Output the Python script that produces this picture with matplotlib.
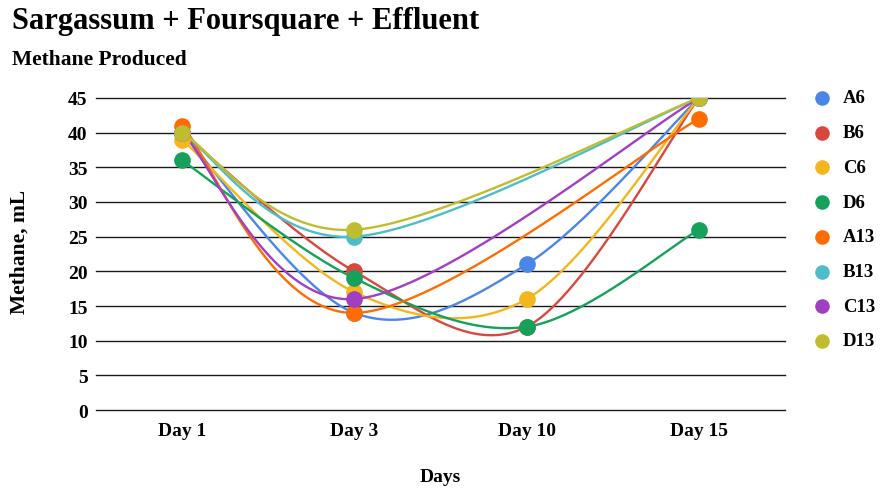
import numpy as np
import matplotlib.pyplot as plt

plt.rcParams['font.family'] = ['Liberation Serif', 'DejaVu Serif']
plt.rcParams['font.weight'] = 'bold'

days = ['Day 1', 'Day 3', 'Day 10', 'Day 15']
series_names = ['A6', 'B6', 'C6', 'D6', 'A13', 'B13', 'C13', 'D13']
colors = ['#4a86e8', '#d9473e', '#f3b61c', '#16a15a',
          '#ff6d01', '#4dbdc9', '#a13fc4', '#bfbd2f']

# methane (mL); nan = no reading, the curve is carried across
a6 = [40, 14, 21, 45]
b6 = [40, 20, 12, 45]
c6 = [39, 17, 16, 45]
d6 = [36, 19, 12, 26]
a13 = [41, 14, np.nan, 42]
b13 = [40, 25, np.nan, 45]
c13 = [40, 16, np.nan, 45]
d13 = [40, 26, np.nan, 45]
values = [a6, b6, c6, d6, a13, b13, c13, d13]
yticks = list(range(0, 50, 5))


def smooth(xs, ys, n=60):
    # cubic bezier through the points, control arms from the neighbours
    pts = np.column_stack([xs, ys])
    out = []
    for i in range(len(pts) - 1):
        p0 = pts[max(i - 1, 0)]
        p1 = pts[i]
        p2 = pts[i + 1]
        p3 = pts[min(i + 2, len(pts) - 1)]
        c1 = p1 + (p2 - p0) / 6
        c2 = p2 - (p3 - p1) / 6
        t = np.linspace(0, 1, n)[:, None]
        seg = ((1 - t) ** 3 * p1 + 3 * (1 - t) ** 2 * t * c1
               + 3 * (1 - t) * t ** 2 * c2 + t ** 3 * p2)
        out.append(seg)
    out = np.vstack(out)
    return out[:, 0], out[:, 1]


fig = plt.figure(figsize=(8.8, 4.89), dpi=100)
ax = fig.add_axes([96 / 880, 1 - 411 / 489, 689 / 880, 312 / 489])

# horizontal gridlines, including the baseline
for v in yticks:
    ax.axhline(v, color='#1a1a1a', lw=1, clip_on=False, zorder=1)

x = np.arange(len(days))
for name, vals, col in zip(series_names, values, colors):
    vals = np.array(vals, dtype=float)
    ok = ~np.isnan(vals)
    sx, sy = smooth(x[ok].astype(float), vals[ok])
    ax.plot(sx, sy, color=col, lw=1.7, zorder=3)
    ax.plot(x[ok], vals[ok], 'o', color=col, ms=12, mec='none', zorder=4)

ax.set_xlim(-0.5, 3.5)
ax.set_ylim(0, 45)
ax.set_yticks(yticks)
ax.set_xticks(x)
ax.set_xticklabels(days)
for s in ax.spines.values():
    s.set_visible(False)
ax.tick_params(length=0, labelsize=14)
ax.tick_params(axis='y', pad=6)
ax.tick_params(axis='x', pad=9)

ax.set_xlabel('Days', fontsize=14, fontweight='bold', va='center')
ax.xaxis.set_label_coords(0.499, -67 / 312)
ax.set_ylabel('Methane, mL', fontsize=15.5, fontweight='bold', va='center')
ax.yaxis.set_label_coords(-76 / 689, 0.51)

fig.text(12 / 880, 1 - 21 / 489, 'Sargassum + Foursquare + Effluent',
         fontsize=22, fontweight='bold', va='center', ha='left')
fig.text(12 / 880, 1 - 60 / 489, 'Methane Produced',
         fontsize=15.5, fontweight='bold', va='center', ha='left')

# legend on the right
for i, (name, col) in enumerate(zip(series_names, colors)):
    yy = 1 - (99 + i * 34.7) / 489
    fig.lines.append(plt.Line2D([822 / 880], [yy], marker='o', ms=10.5,
                                color=col, mec='none',
                                transform=fig.transFigure))
    fig.text(843 / 880, yy, name, fontsize=13.5, fontweight='bold',
             va='center', ha='left')

fig.savefig('out.png', dpi=100)
